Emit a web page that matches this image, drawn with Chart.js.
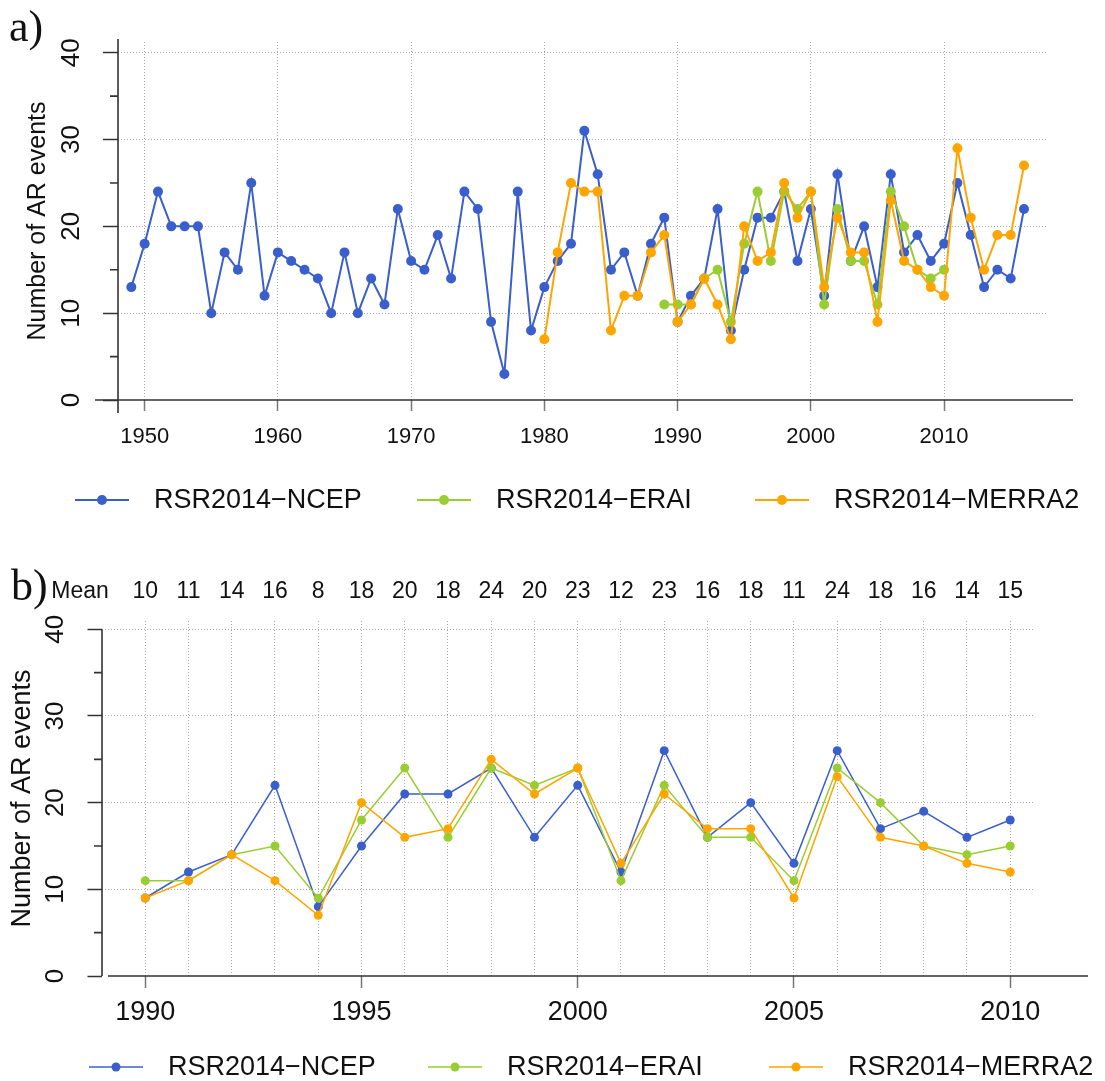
<!DOCTYPE html>
<html>
<head>
<meta charset="utf-8">
<title>AR events per year</title>
<script src="https://cdn.jsdelivr.net/npm/chart.js@4.4.1/dist/chart.umd.min.js"></script>
<style>
  html, body { margin: 0; padding: 0; background: #fff; }
  canvas { position: absolute; left: 0; }
  #panelA { top: 0; }
  #panelB { top: 560px; }
</style>
</head>
<body>
<canvas id="panelA" width="1105" height="560"></canvas>
<canvas id="panelB" width="1105" height="521"></canvas>
<script>
const FONT = '"Liberation Sans", Arial, Helvetica, sans-serif';
const SERIF = '"Liberation Serif", "Times New Roman", serif';

// yearly AR event counts, first value belongs to the start year
const ncepStart = 1949;
const ncepCounts = [
    13, 18, 24, 20, 20, 20, 10, 17, 15, 25, 12, 17, 16, 15, 14, 10, 17, 10, 14, 11, 22,
    16, 15, 19, 14, 24, 22, 9, 3, 24, 8, 13, 16, 18, 31, 26, 15, 17, 12, 18, 21,
    9, 12, 14, 22, 8, 15, 21, 21, 24, 16, 22, 12, 26, 16, 20, 13, 26, 17, 19, 16, 18,
    25, 19, 13, 15, 14, 22
];
const eraiStart = 1989;
const eraiCounts = [
    11, 11, 11, 14, 15, 9, 18, 24, 16, 24, 22, 24, 11, 22, 16, 16, 11, 24, 20, 15, 14, 15
];
const merraStart = 1980;
const merraCounts = [
    7, 17, 25, 24, 24, 8, 12, 12, 17, 19,
    9, 11, 14, 11, 7, 20, 16, 17, 25, 21, 24, 13, 21, 17, 17, 9, 23, 16, 15, 13, 12,
    29, 21, 15, 19, 19, 27
];

const seriesNames = ['RSR2014\u2212NCEP', 'RSR2014\u2212ERAI', 'RSR2014\u2212MERRA2'];
const seriesColors = ['#3A5FCD', '#9ACD32', '#FFA500'];

// axis ticks
const decadeTicks = [1950, 1960, 1970, 1980, 1990, 2000, 2010];
const zoomYears = [1990, 1991, 1992, 1993, 1994, 1995, 1996, 1997, 1998, 1999, 2000,
                   2001, 2002, 2003, 2004, 2005, 2006, 2007, 2008, 2009, 2010];
const zoomLabelYears = [1990, 1995, 2000, 2005, 2010];
const countTicks = [0, 10, 20, 30, 40];
const minorCountTicks = [5, 15, 25, 35];

// three-product mean printed above each year of panel b
const meanLabels = [10, 11, 14, 16, 8, 18, 20, 18, 24, 20, 23, 12, 23, 16, 18, 11, 24, 18, 16, 14, 15];

function toPoints(start, counts, from, to) {
    return counts
        .map((c, i) => ({ x: start + i, y: c }))
        .filter(p => p.x >= from && p.x <= to);
}

const GRID = '#a8a8a8';

// axes, rotated y labels, legend and panel letter drawn in base-graphics style
const rStyle = {
    id: 'rStyle',
    afterDraw(chart, args, g) {
        const { ctx, chartArea } = chart;
        const xs = chart.scales.x;
        const ys = chart.scales.y;
        const y0 = ys.getPixelForValue(0);
        ctx.save();

        ctx.strokeStyle = '#333';
        ctx.lineWidth = g.axisWidth;
        ctx.setLineDash([]);
        ctx.beginPath();
        ctx.moveTo(g.xAxisFrom, y0);
        ctx.lineTo(g.xAxisTo, y0);
        ctx.moveTo(chartArea.left, g.yAxisFrom);
        ctx.lineTo(chartArea.left, g.yAxisTo);
        minorCountTicks.forEach(v => {
            const y = ys.getPixelForValue(v);
            ctx.moveTo(chartArea.left - g.minorLen, y);
            ctx.lineTo(chartArea.left, y);
        });
        ctx.stroke();

        ctx.fillStyle = '#111';
        ctx.font = `${g.yLabelFont}px ${FONT}`;
        ctx.textAlign = 'center';
        ctx.textBaseline = 'middle';
        countTicks.forEach(v => {
            ctx.save();
            ctx.translate(g.yLabelX, ys.getPixelForValue(v));
            ctx.rotate(-Math.PI / 2);
            ctx.fillText(String(v), 0, 0);
            ctx.restore();
        });

        // legend row
        ctx.font = `${g.legendFont}px ${FONT}`;
        ctx.textAlign = 'left';
        chart.data.datasets.forEach((ds, i) => {
            const cx = g.legendCenters[i];
            ctx.strokeStyle = ds.borderColor;
            ctx.lineWidth = ds.borderWidth;
            ctx.beginPath();
            ctx.moveTo(cx - g.legendHalf, g.legendY);
            ctx.lineTo(cx + g.legendHalf, g.legendY);
            ctx.stroke();
            ctx.fillStyle = ds.borderColor;
            ctx.beginPath();
            ctx.arc(cx, g.legendY, ds.pointRadius, 0, Math.PI * 2);
            ctx.fill();
            ctx.fillStyle = '#111';
            ctx.fillText(ds.label, cx + g.legendTextGap, g.legendY + 1);
        });

        if (g.means) {
            ctx.font = `${g.meanFont}px ${FONT}`;
            ctx.textBaseline = 'alphabetic';
            ctx.textAlign = 'center';
            ctx.fillText('Mean', g.meanTitleX, g.meanY);
            g.means.forEach((m, i) => {
                ctx.fillText(String(m), xs.getPixelForValue(zoomYears[i]), g.meanY);
            });
        }

        ctx.font = `${g.letterFont}px ${SERIF}`;
        ctx.textAlign = 'left';
        ctx.textBaseline = 'alphabetic';
        ctx.fillText(g.letter, g.letterX, g.letterY);
        ctx.restore();
    }
};

function makePanel(id, g, datasets) {
    return new Chart(document.getElementById(id), {
        type: 'line',
        data: { datasets },
        plugins: [rStyle],
        options: {
            responsive: false,
            animation: false,
            layout: { padding: { top: g.top, right: g.padRight, left: 0, bottom: 0 } },
            plugins: {
                legend: { display: false },
                tooltip: { enabled: false },
                rStyle: g
            },
            scales: {
                x: {
                    type: 'linear',
                    min: g.xMin,
                    max: g.xMax,
                    afterBuildTicks: s => { s.ticks = g.xGridValues.map(v => ({ value: v })); },
                    afterFit: s => { s.height = g.xHeight; },
                    border: { display: false, dash: [1, 2] },
                    grid: {
                        color: GRID,
                        lineWidth: 1,
                        tickLength: g.xTickLen,
                        tickWidth: 1.5,
                        tickColor: c => g.xLabelValues.includes(c.tick.value) ? '#777' : 'rgba(0,0,0,0)'
                    },
                    ticks: {
                        autoSkip: false,
                        maxRotation: 0,
                        minRotation: 0,
                        padding: g.xLabelPad,
                        color: '#111',
                        font: { family: FONT, size: g.xLabelFont },
                        callback: v => g.xLabelValues.includes(v) ? String(v) : ''
                    }
                },
                y: {
                    min: 0,
                    max: g.yMax,
                    afterBuildTicks: s => { s.ticks = countTicks.map(v => ({ value: v })); },
                    afterFit: s => { s.width = g.left; },
                    border: { display: false, dash: [1, 2] },
                    grid: {
                        color: c => c.tick && c.tick.value === 0 ? 'rgba(0,0,0,0)' : GRID,
                        lineWidth: 1,
                        tickLength: g.yTickLen,
                        tickWidth: 1.5,
                        tickColor: '#333'
                    },
                    ticks: { display: false },
                    title: {
                        display: true,
                        text: 'Number of AR events',
                        color: '#111',
                        font: { family: FONT, size: g.titleFont },
                        padding: { top: g.titlePad, bottom: 0 }
                    }
                }
            }
        }
    });
}

function series(from, to, lineWidth, radius) {
    const parts = [
        toPoints(ncepStart, ncepCounts, from, to),
        toPoints(eraiStart, eraiCounts, from, to),
        toPoints(merraStart, merraCounts, from, to)
    ];
    return parts.map((pts, i) => ({
        label: seriesNames[i],
        data: pts,
        borderColor: seriesColors[i],
        backgroundColor: seriesColors[i],
        pointBackgroundColor: seriesColors[i],
        pointBorderWidth: 0,
        pointRadius: radius,
        borderWidth: lineWidth,
        tension: 0,
        order: 3 - i
    }));
}

// a) full record
makePanel('panelA', {
    top: 42, left: 118, padRight: 57, xHeight: 160,
    xMin: 1948, xMax: 2017.8, yMax: 41.23,
    xGridValues: decadeTicks, xLabelValues: decadeTicks,
    xTickLen: 11, xLabelPad: 13, xLabelFont: 22,
    yTickLen: 15, minorLen: 8, axisWidth: 1.6,
    xAxisFrom: 95, xAxisTo: 1073, yAxisFrom: 39, yAxisTo: 413,
    yLabelX: 72, yLabelFont: 26, titleFont: 25, titlePad: 23,
    legendY: 500, legendCenters: [102, 444, 782], legendHalf: 27, legendTextGap: 52, legendFont: 27,
    letter: 'a)', letterX: 9, letterY: 41, letterFont: 44
}, series(1940, 2020, 2, 5));

// b) 1990-2010 close-up with yearly means
makePanel('panelB', {
    top: 61, left: 102, padRight: 71, xHeight: 105,
    xMin: 1989, xMax: 2010.55, yMax: 40.96,
    xGridValues: zoomYears, xLabelValues: zoomLabelYears,
    xTickLen: 12, xLabelPad: 8, xLabelFont: 27,
    yTickLen: 14.5, minorLen: 8, axisWidth: 1.6,
    xAxisFrom: 108, xAxisTo: 1088, yAxisFrom: 69.3, yAxisTo: 416,
    yLabelX: 56, yLabelFont: 26, titleFont: 27, titlePad: 6,
    legendY: 507, legendCenters: [116, 455, 796], legendHalf: 27, legendTextGap: 52, legendFont: 27,
    means: meanLabels, meanTitleX: 80, meanY: 38, meanFont: 23,
    letter: 'b)', letterX: 11, letterY: 40, letterFont: 44
}, series(1990, 2010, 1.5, 4.5));
</script>
</body>
</html>
